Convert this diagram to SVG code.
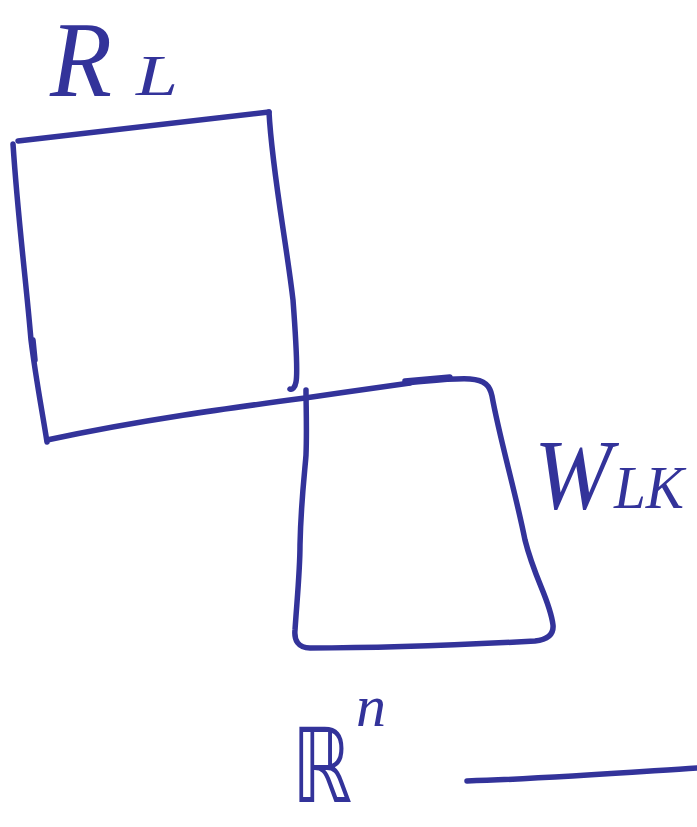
<svg xmlns="http://www.w3.org/2000/svg" width="697" height="827" viewBox="0 0 697 827">
<style>
.s{fill:none;stroke:#33339a;stroke-width:5.5;stroke-linecap:round;stroke-linejoin:round}
.t{fill:#33339a;font-family:"Liberation Serif",serif;font-style:italic}
.d{fill:#33339a;font-family:"DejaVu Sans",sans-serif}
</style>
<rect width="697" height="827" fill="#fff"/>
<g id="label-RL">
<text class="t" x="50" y="96" font-size="108" textLength="62" lengthAdjust="spacingAndGlyphs">R</text>
<text class="t" x="136" y="95" font-size="56" textLength="42" lengthAdjust="spacingAndGlyphs">L</text>
</g>
<g id="node-RL">
<path class="s" d="M18,141 L269,112"/>
<path class="s" d="M269,112 C272,170 286,240 293,300 C296,340 298,372 296,382 C295,388 292,390 290,389"/>
<path class="s" d="M13,144 C18,220 26,280 31,340 C36,380 42,410 47,442"/>
<path class="s" d="M33,340 L35,360"/>
<path class="s" d="M47,440 C140,420 230,408 305,398 C340,393 380,387 410,383"/>
</g>
<g id="node-WLK">
<path class="s" d="M405,383 C430,381 452,378 470,379 C485,380 490,386 492,396 C500,440 515,490 525,540 C535,580 550,600 553,625 C554,636 545,640 535,641 C460,645 380,648 310,648 C298,648 294,640 295,630 C297,600 300,570 300,545 C301,500 305,470 306,455 C307,430 306,405 306,390"/>
<path class="s" d="M405,381 L450,377"/>
</g>
<g id="label-WLK">
<text class="t" x="534" y="508" font-size="100" textLength="78" lengthAdjust="spacingAndGlyphs">W</text>
<text class="t" x="614" y="508" font-size="62" textLength="70" lengthAdjust="spacingAndGlyphs">LK</text>
</g>
<g id="label-Rn">
<text class="d" transform="translate(292,802) scale(1,1.36)" x="0" y="0" font-size="76">ℝ</text>
<text class="t" x="356" y="726" font-size="60" textLength="30" lengthAdjust="spacingAndGlyphs" font-style="normal">n</text>
</g>
<g id="connectors">
<path class="s" d="M467,781 C540,779 620,773 697,768"/>
</g>
</svg>
